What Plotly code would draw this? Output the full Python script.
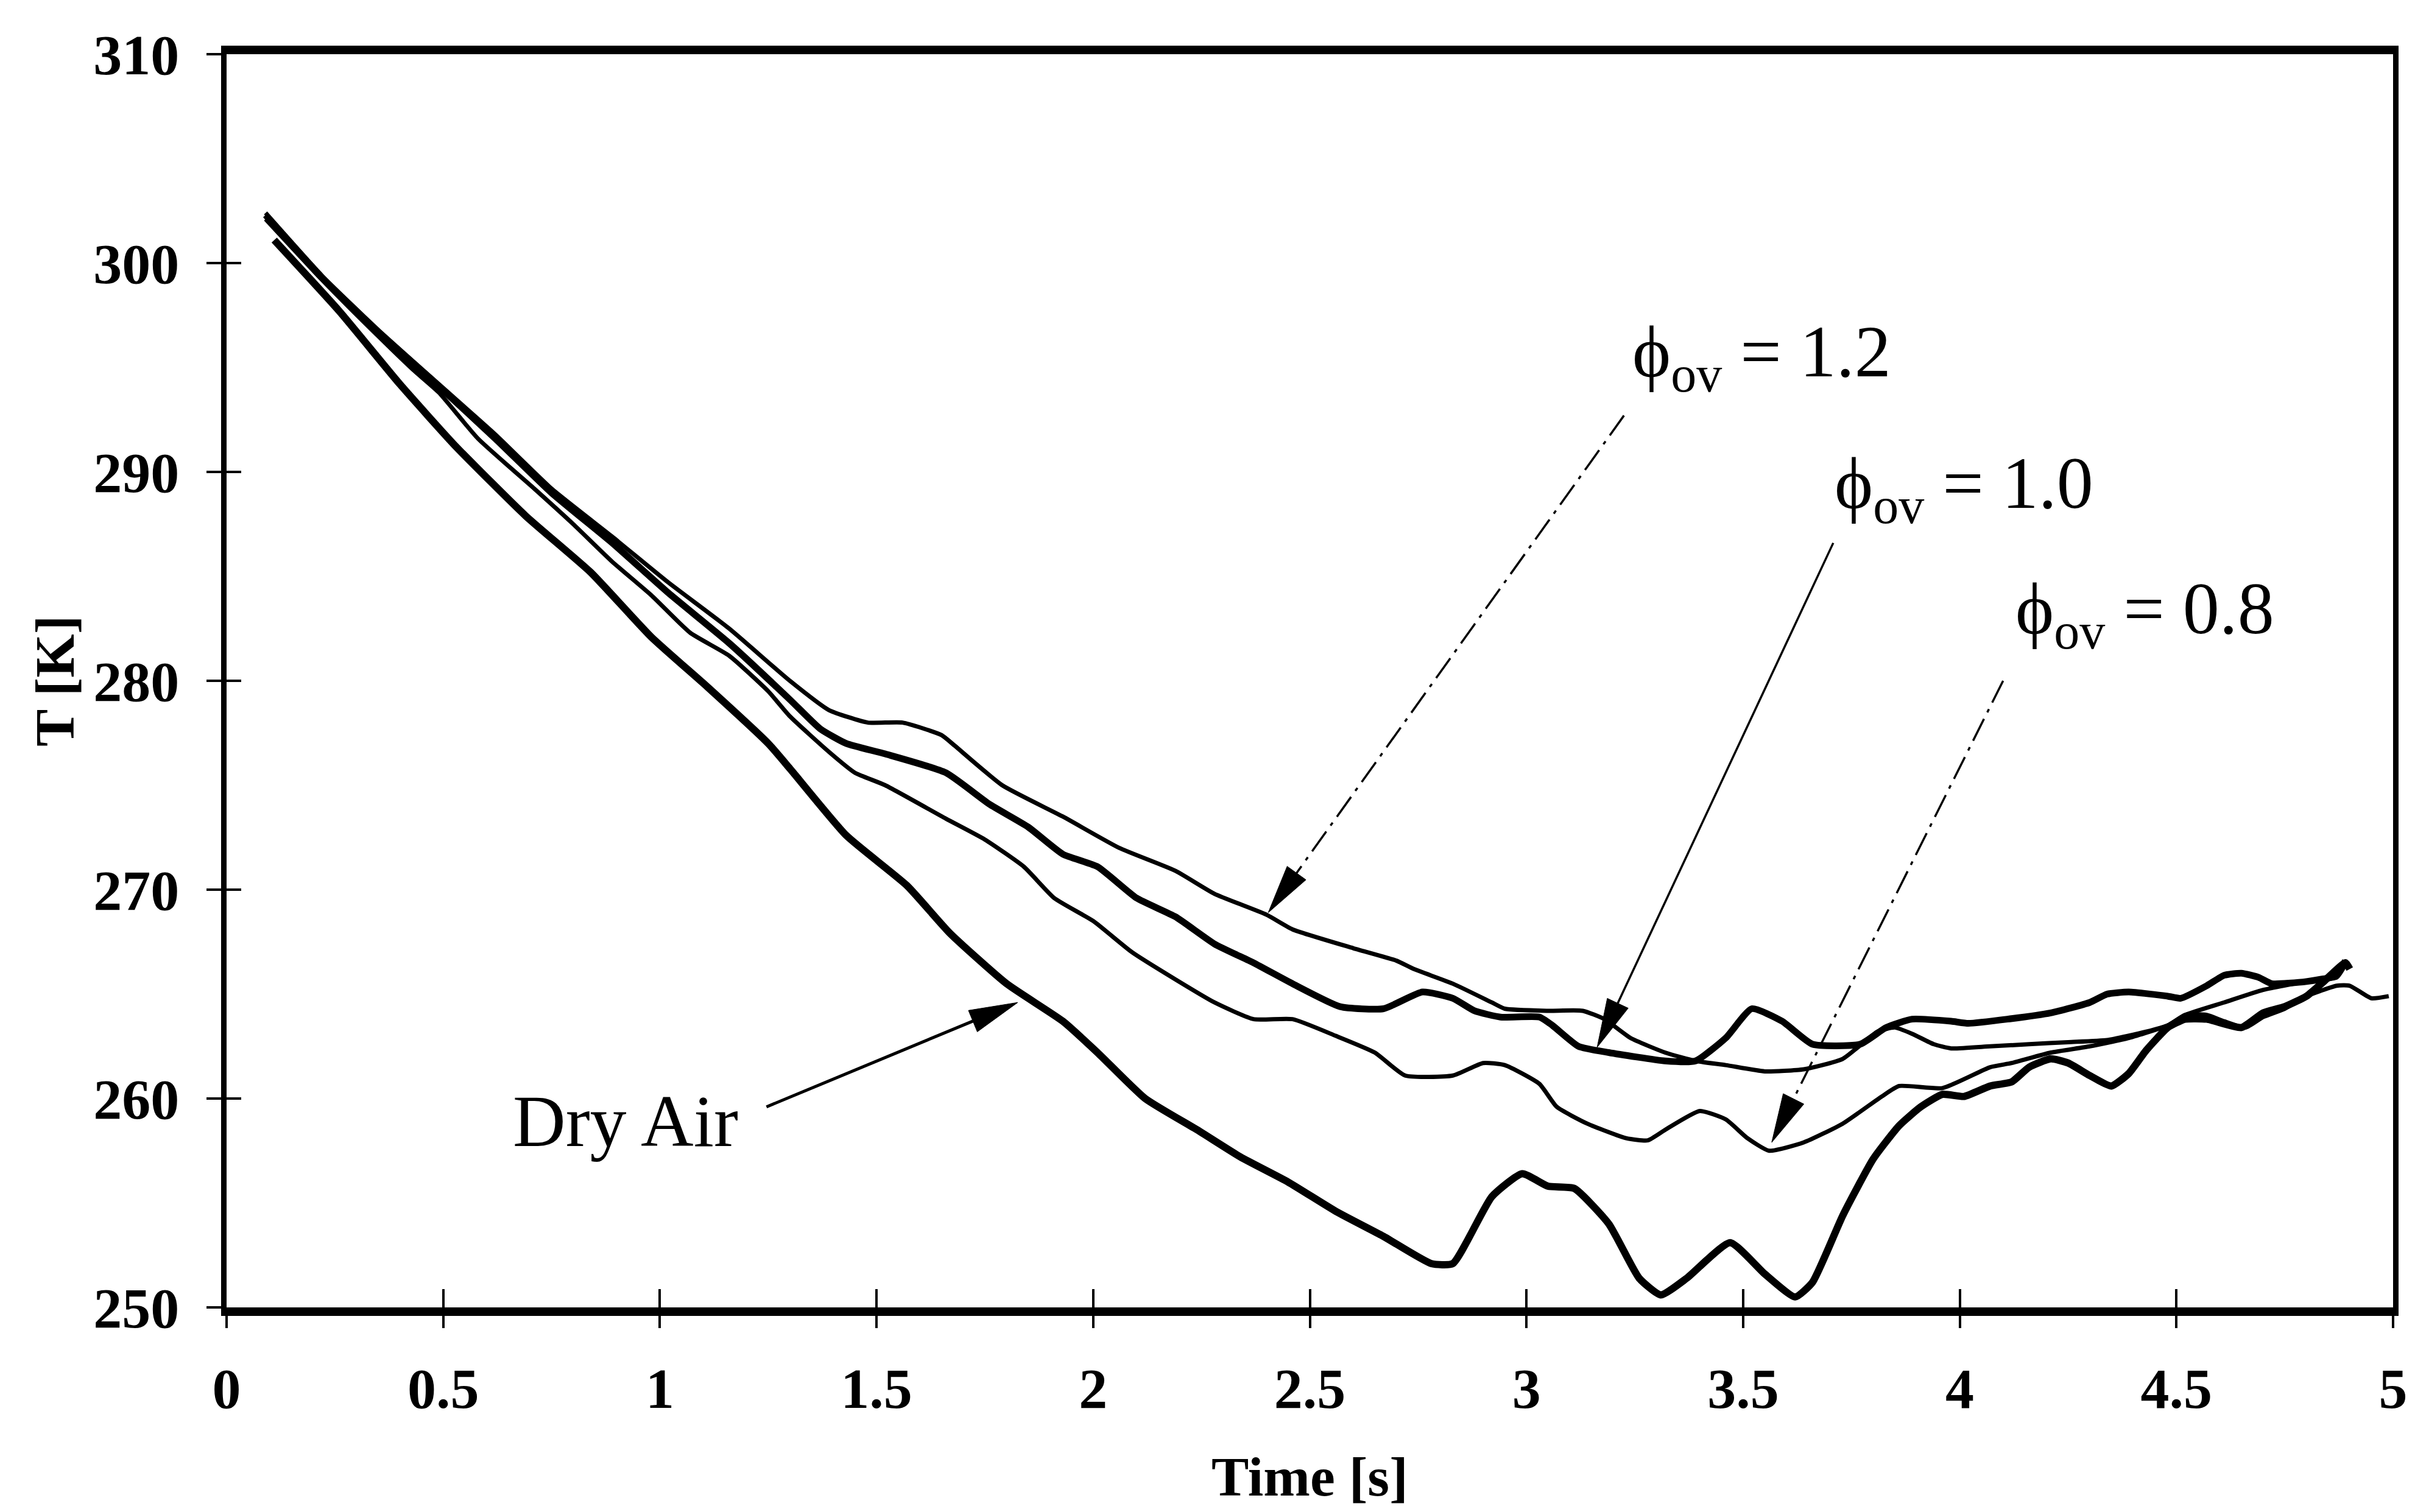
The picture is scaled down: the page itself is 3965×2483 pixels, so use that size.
import math
import plotly.graph_objects as go

# ---- series: time [s] and temperature [K] ----
dry_t = [0.11, 0.26, 0.40, 0.53, 0.69, 0.84, 0.98, 1.11, 1.25, 1.30, 1.43, 1.57, 1.67, 1.80,
         1.93, 2.01, 2.12, 2.24, 2.34, 2.45, 2.56, 2.67, 2.78, 2.83, 2.92, 2.99, 3.05, 3.11,
         3.19, 3.26, 3.31, 3.37, 3.47, 3.55, 3.62, 3.66, 3.73, 3.80, 3.86, 3.91, 3.96, 4.01,
         4.07, 4.12, 4.16, 4.21, 4.25, 4.30, 4.35, 4.39, 4.43, 4.48, 4.52, 4.57, 4.65, 4.70,
         4.75, 4.80, 4.84, 4.89, 4.90]
dry_T = [301.1, 297.7, 294.2, 291.2, 287.9, 285.2, 282.1, 279.7, 277.0, 275.8, 272.6, 270.2,
         267.9, 265.5, 263.7, 262.2, 260.0, 258.5, 257.2, 256.0, 254.6, 253.4, 252.1, 252.1,
         255.3, 256.4, 255.8, 255.7, 254.0, 251.4, 250.6, 251.4, 253.1, 251.6, 250.5, 251.2,
         254.4, 257.1, 258.7, 259.6, 260.2, 260.1, 260.6, 260.8, 261.5, 261.9, 261.7, 261.1,
         260.6, 261.2, 262.3, 263.4, 263.8, 263.8, 263.4, 264.1, 264.4, 264.9, 265.6, 266.5,
         266.2]

phi08_t = [0.09, 0.22, 0.35, 0.43, 0.49, 0.58, 0.71, 0.80, 0.89, 0.98, 1.07, 1.16, 1.25, 1.30,
           1.39, 1.45, 1.52, 1.66, 1.75, 1.84, 1.91, 2.00, 2.09, 2.19, 2.28, 2.37, 2.46, 2.56,
           2.65, 2.72, 2.83, 2.90, 2.95, 3.03, 3.07, 3.14, 3.23, 3.28, 3.32, 3.40, 3.46, 3.51,
           3.56, 3.64, 3.73, 3.82, 3.86, 3.96, 4.07, 4.12, 4.21, 4.30, 4.39, 4.48, 4.52, 4.57,
           4.61, 4.66, 4.70, 4.75, 4.80, 4.87, 4.90, 4.95, 4.99]
phi08_T = [302.1, 299.2, 296.5, 294.9, 293.8, 291.6, 289.2, 287.5, 285.7, 284.1, 282.3, 281.2,
           279.5, 278.3, 276.6, 275.6, 275.0, 273.4, 272.4, 271.1, 269.6, 268.5, 267.0, 265.7,
           264.6, 263.8, 263.8, 263.0, 262.2, 261.1, 261.1, 261.7, 261.6, 260.7, 259.6, 258.8,
           258.1, 258.0, 258.5, 259.4, 259.0, 258.1, 257.5, 257.9, 258.8, 260.1, 260.6, 260.5,
           261.5, 261.7, 262.2, 262.5, 262.9, 263.5, 264.0, 264.0, 263.7, 263.4, 263.9, 264.3,
           264.9, 265.4, 265.4, 264.8, 264.9]

phi10_t = [0.09, 0.22, 0.35, 0.49, 0.62, 0.75, 0.89, 1.02, 1.16, 1.30, 1.37, 1.43, 1.52, 1.66,
           1.76, 1.85, 1.93, 2.01, 2.10, 2.19, 2.28, 2.37, 2.46, 2.57, 2.67, 2.76, 2.83, 2.88,
           2.94, 3.03, 3.06, 3.12, 3.19, 3.32, 3.39, 3.46, 3.52, 3.59, 3.66, 3.77, 3.83, 3.89,
           3.98, 4.02, 4.11, 4.21, 4.30, 4.34, 4.39, 4.48, 4.51, 4.57, 4.61, 4.65, 4.69, 4.72,
           4.80, 4.87, 4.89]
phi10_T = [302.3, 299.3, 296.7, 294.1, 291.6, 289.0, 286.6, 284.2, 281.8, 279.1, 277.7, 277.0,
           276.5, 275.6, 274.1, 273.0, 271.7, 271.1, 269.6, 268.7, 267.4, 266.5, 265.5, 264.4,
           264.3, 265.1, 264.8, 264.2, 263.9, 263.9, 263.5, 262.5, 262.2, 261.8, 261.8, 262.9,
           264.3, 263.7, 262.6, 262.6, 263.4, 263.8, 263.7, 263.6, 263.8, 264.1, 264.6, 265.0,
           265.1, 264.9, 264.8, 265.4, 265.9, 266.0, 265.8, 265.5, 265.6, 265.9, 266.6]

phi12_t = [0.09, 0.22, 0.35, 0.49, 0.62, 0.75, 0.89, 1.02, 1.16, 1.30, 1.39, 1.48, 1.56, 1.65,
           1.68, 1.79, 1.93, 2.06, 2.19, 2.28, 2.40, 2.46, 2.60, 2.70, 2.74, 2.83, 2.92, 2.95,
           3.05, 3.13, 3.18, 3.24, 3.32, 3.39, 3.46, 3.55, 3.64, 3.73, 3.81, 3.85, 3.89, 3.94,
           3.98, 4.07, 4.16, 4.25, 4.34, 4.43, 4.48, 4.52, 4.61, 4.70, 4.80, 4.87, 4.895]
phi12_T = [302.4, 299.4, 296.8, 294.2, 291.8, 289.2, 286.9, 284.7, 282.5, 280.0, 278.6, 278.0,
           278.0, 277.4, 276.9, 275.0, 273.5, 272.0, 270.9, 269.8, 268.8, 268.1, 267.2, 266.6,
           266.2, 265.5, 264.6, 264.3, 264.2, 264.2, 263.8, 262.9, 262.2, 261.8, 261.6, 261.3,
           261.4, 261.9, 263.2, 263.4, 263.1, 262.6, 262.4, 262.5, 262.6, 262.7, 262.8, 263.2,
           263.5, 264.0, 264.6, 265.2, 265.6, 265.8, 266.6]

x_ticks = [0, 0.5, 1, 1.5, 2, 2.5, 3, 3.5, 4, 4.5, 5]
y_ticks = [250, 260, 270, 280, 290, 300, 310]

# ---- page geometry ----
W, H = 3965, 2483
M_L, M_R, M_T, M_B = 372, 28, 89, 336
X_RANGE = [0, 5]
Y_RANGE = [250, 310]
PW = W - M_L - M_R
PH = H - M_T - M_B

SERIF = "Liberation Serif, Times New Roman, serif"
BLACK = "#000000"


def to_px(t, T):
    return (M_L + (t - X_RANGE[0]) / (X_RANGE[1] - X_RANGE[0]) * PW,
            M_T + (Y_RANGE[1] - T) / (Y_RANGE[1] - Y_RANGE[0]) * PH)


def to_data(px, py):
    return (X_RANGE[0] + (px - M_L) / PW * (X_RANGE[1] - X_RANGE[0]),
            Y_RANGE[1] - (py - M_T) / PH * (Y_RANGE[1] - Y_RANGE[0]))


fig = go.Figure()

# the dry-air curve lives on the overlay axes so that their inner tick halves are drawn
series = [
    ("Dry Air", dry_t, dry_T, 12, "x2", "y2"),
    ("phi_ov = 0.8", phi08_t, phi08_T, 7, "x", "y"),
    ("phi_ov = 1.0", phi10_t, phi10_T, 11, "x", "y"),
    ("phi_ov = 1.2", phi12_t, phi12_T, 7, "x", "y"),
]
for name, tx, ty, lw, xa, ya in series:
    fig.add_trace(go.Scatter(
        x=tx, y=ty, mode="lines", name=name, xaxis=xa, yaxis=ya,
        line=dict(color=BLACK, width=lw, shape="spline", smoothing=0.5),
        showlegend=False, hoverinfo="skip",
    ))

# ---- callout arrows: (tail t, tail T, tip t, tip T, dash, width) ----
callouts = [
    (3.225, 292.7, 2.404, 268.9, "40px,12px,6px,12px", 3.5),
    (3.708, 286.6, 3.163, 262.45, "solid", 3.5),
    (4.100, 280.0, 3.566, 257.9, "40px,12px,6px,12px", 3.5),
    (1.246, 259.6, 1.826, 264.6, "solid", 5),
]
HEAD_LEN, HEAD_W = 80, 38
shapes = []
for t0, T0, t1, T1, dash, lw in callouts:
    x0, y0 = to_px(t0, T0)
    x1, y1 = to_px(t1, T1)
    d = math.hypot(x1 - x0, y1 - y0)
    ux, uy = (x1 - x0) / d, (y1 - y0) / d
    bx, by = x1 - HEAD_LEN * ux, y1 - HEAD_LEN * uy
    nx, ny = -uy, ux
    v1 = to_data(bx + HEAD_W / 2 * nx, by + HEAD_W / 2 * ny)
    v2 = to_data(bx - HEAD_W / 2 * nx, by - HEAD_W / 2 * ny)
    b = to_data(bx, by)
    shapes.append(dict(type="line", xref="x", yref="y", x0=t0, y0=T0, x1=b[0], y1=b[1],
                       line=dict(color=BLACK, width=lw, dash=dash)))
    shapes.append(dict(type="path", xref="x", yref="y",
                       path=f"M{t1},{T1} L{v1[0]},{v1[1]} L{v2[0]},{v2[1]} Z",
                       fillcolor=BLACK, line=dict(color=BLACK, width=1)))

# ---- text labels ----
label_font = dict(family=SERIF, size=120, color=BLACK)
labels = [
    (3.241, 295.5, "\u03d5<sub>ov</sub> = 1.2"),
    (3.708, 289.2, "\u03d5<sub>ov</sub> = 1.0"),
    (4.126, 283.2, "\u03d5<sub>ov</sub> = 0.8"),
    (0.658, 258.9, "Dry Air"),
]
annotations = []
for lx, ly, txt in labels:
    annotations.append(dict(x=lx, y=ly, xref="x", yref="y", text=txt, showarrow=False,
                            xanchor="left", yanchor="middle", font=label_font))

# axis titles
title_font = dict(family=SERIF, size=92, color=BLACK)
annotations.append(dict(x=0.5, y=0, xref="paper", yref="paper", text="<b>Time [s]</b>",
                        showarrow=False, xanchor="center", yanchor="middle", yshift=-278,
                        font=title_font))
annotations.append(dict(x=0, y=0.5, xref="paper", yref="paper", text="<b>T [K]</b>",
                        showarrow=False, xanchor="center", yanchor="middle", xshift=-282,
                        textangle=-90, font=title_font))

tick_font = dict(family=SERIF, size=94, color=BLACK, weight="bold")

fig.update_layout(
    width=W, height=H, autosize=False,
    margin=dict(l=M_L, r=M_R, t=M_T, b=M_B, pad=0),
    paper_bgcolor="white", plot_bgcolor="white",
    showlegend=False,
    shapes=shapes,
    annotations=annotations,
    xaxis=dict(
        range=X_RANGE, tickmode="array", tickvals=x_ticks,
        ticktext=[f"{v:g}" for v in x_ticks],
        ticks="outside", ticklen=20, tickwidth=4, tickcolor=BLACK,
        showline=True, linecolor=BLACK, linewidth=14, mirror=True,
        showgrid=False, zeroline=False, tickfont=tick_font, ticklabelstandoff=18,
    ),
    yaxis=dict(
        range=Y_RANGE, tickmode="array", tickvals=y_ticks,
        ticks="outside", ticklen=24, tickwidth=4, tickcolor=BLACK,
        showline=True, linecolor=BLACK, linewidth=9, mirror=True,
        showgrid=False, zeroline=False, tickfont=tick_font, ticklabelstandoff=26,
    ),
    # inner halves of the crossing tick marks
    xaxis2=dict(
        range=X_RANGE, overlaying="x", anchor="y2", side="bottom", tickmode="array",
        tickvals=x_ticks, ticks="inside", ticklen=30, tickwidth=4, tickcolor=BLACK,
        showticklabels=False, showline=False, showgrid=False, zeroline=False,
    ),
    yaxis2=dict(
        range=Y_RANGE, overlaying="y", anchor="x2", side="left", tickmode="array",
        tickvals=y_ticks, ticks="inside", ticklen=24, tickwidth=4, tickcolor=BLACK,
        showticklabels=False, showline=False, showgrid=False, zeroline=False,
    ),
)

fig.write_html("out.html")
